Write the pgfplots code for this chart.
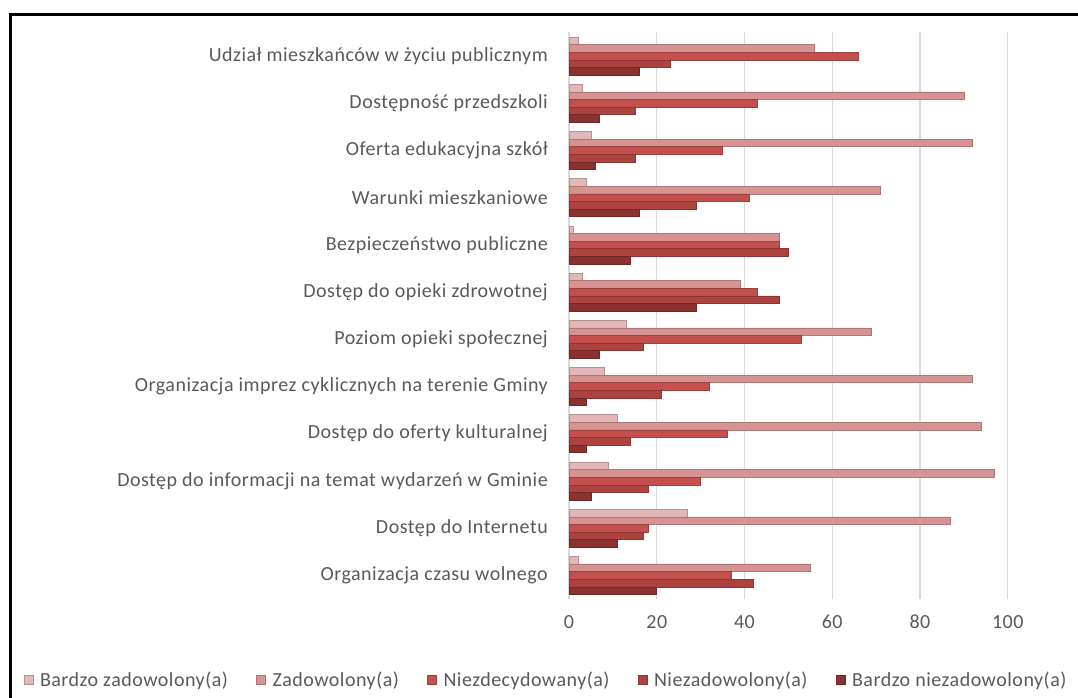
\documentclass[border=0pt]{standalone}
\usepackage{pgfplots}
\pgfplotsset{compat=1.18}
\usepackage{fontspec}
\setmainfont[LetterSpace=2.5]{Carlito}
\definecolor{cBZ}{HTML}{E3B7B7}
\definecolor{cZ}{HTML}{D69392}
\definecolor{cN}{HTML}{C4504D}
\definecolor{cNz}{HTML}{AE423F}
\definecolor{cBN}{HTML}{8B3230}
\definecolor{txt}{HTML}{595959}
\definecolor{grid}{HTML}{D9D9D9}
% y: 0 = Organizacja czasu wolnego (bottom) ... 11 = Udzial (top)
\pgfplotstableread{
y BZ Z N Nz BN
0 2 55 37 42 20
1 27 87 18 17 11
2 9 97 30 18 5
3 11 94 36 14 4
4 8 92 32 21 4
5 13 69 53 17 7
6 3 39 43 48 29
7 1 48 48 50 14
8 4 71 41 29 16
9 5 92 35 15 6
10 3 90 43 15 7
11 2 56 66 23 16
}\datatable
\begin{document}
\begin{tikzpicture}[x=1bp,y=1bp]
\path[use as bounding box] (0,0) rectangle (1078,698);
\draw[line width=2.5bp] (10.7,0) -- (10.7,683.5) -- (1078,683.5);
\begin{axis}[
  at={(569bp,99bp)}, anchor=south west,
  width=438.7bp, height=566.6bp, scale only axis,
  xmin=0, xmax=100, ymin=-0.5, ymax=11.5,
  xbar, bar width=7.6bp,
  xtick={0,20,40,60,80,100},
  ytick={0,...,11},
  yticklabels={Organizacja czasu wolnego\ ,Dostęp do Internetu,Dostęp do informacji na temat wydarzeń w Gminie,Dostęp do oferty kulturalnej\ ,Organizacja imprez cyklicznych na terenie Gminy,Poziom opieki społecznej,Dostęp do opieki zdrowotnej\ ,Bezpieczeństwo publiczne,Warunki mieszkaniowe,Oferta edukacyjna szkół,Dostępność przedszkoli,Udział mieszkańców w życiu publicznym},
  major tick length=0pt,
  axis x line*=bottom, axis y line*=left,
  x axis line style={draw=none},
  y axis line style={draw=grid, line width=1bp},
  xmajorgrids, major grid style={draw=grid, line width=1.2bp},
  tick label style={font=\fontsize{20bp}{24bp}\selectfont, text=txt},
  yticklabel style={inner sep=0pt, anchor=east, xshift=-21bp},
  xticklabel style={inner sep=0pt, anchor=north, yshift=-16bp},
  /pgf/number format/assume math mode=true,
  legend columns=5,
  legend style={at={(-0.0547,-0.143)}, anchor=center, draw=none, fill=none,
    font=\fontsize{20bp}{24bp}\selectfont, text=txt,
    nodes={inner sep=0pt},
    /tikz/every odd column/.append style={column sep=7bp},
    /tikz/every even column/.append style={column sep=28bp},
    inner sep=0pt},
  legend image code/.code={\fill[#1] (0bp,-4.5bp) rectangle (9bp,4.5bp);},
  clip=false,
]
\addplot[fill=cBZ, draw=cBZ!80!black, line width=0.5bp, bar shift=15.2bp] table[x=BZ,y=y]{\datatable};
\addplot[fill=cZ, draw=cZ!80!black, line width=0.5bp, bar shift=7.6bp] table[x=Z,y=y]{\datatable};
\addplot[fill=cN, draw=cN!80!black, line width=0.5bp, bar shift=0bp] table[x=N,y=y]{\datatable};
\addplot[fill=cNz, draw=cNz!80!black, line width=0.5bp, bar shift=-7.6bp] table[x=Nz,y=y]{\datatable};
\addplot[fill=cBN, draw=cBN!80!black, line width=0.5bp, bar shift=-15.2bp] table[x=BN,y=y]{\datatable};
\legend{Bardzo zadowolony(a),Zadowolony(a),Niezdecydowany(a),Niezadowolony(a),Bardzo niezadowolony(a)}
\end{axis}
\end{tikzpicture}
\end{document}
